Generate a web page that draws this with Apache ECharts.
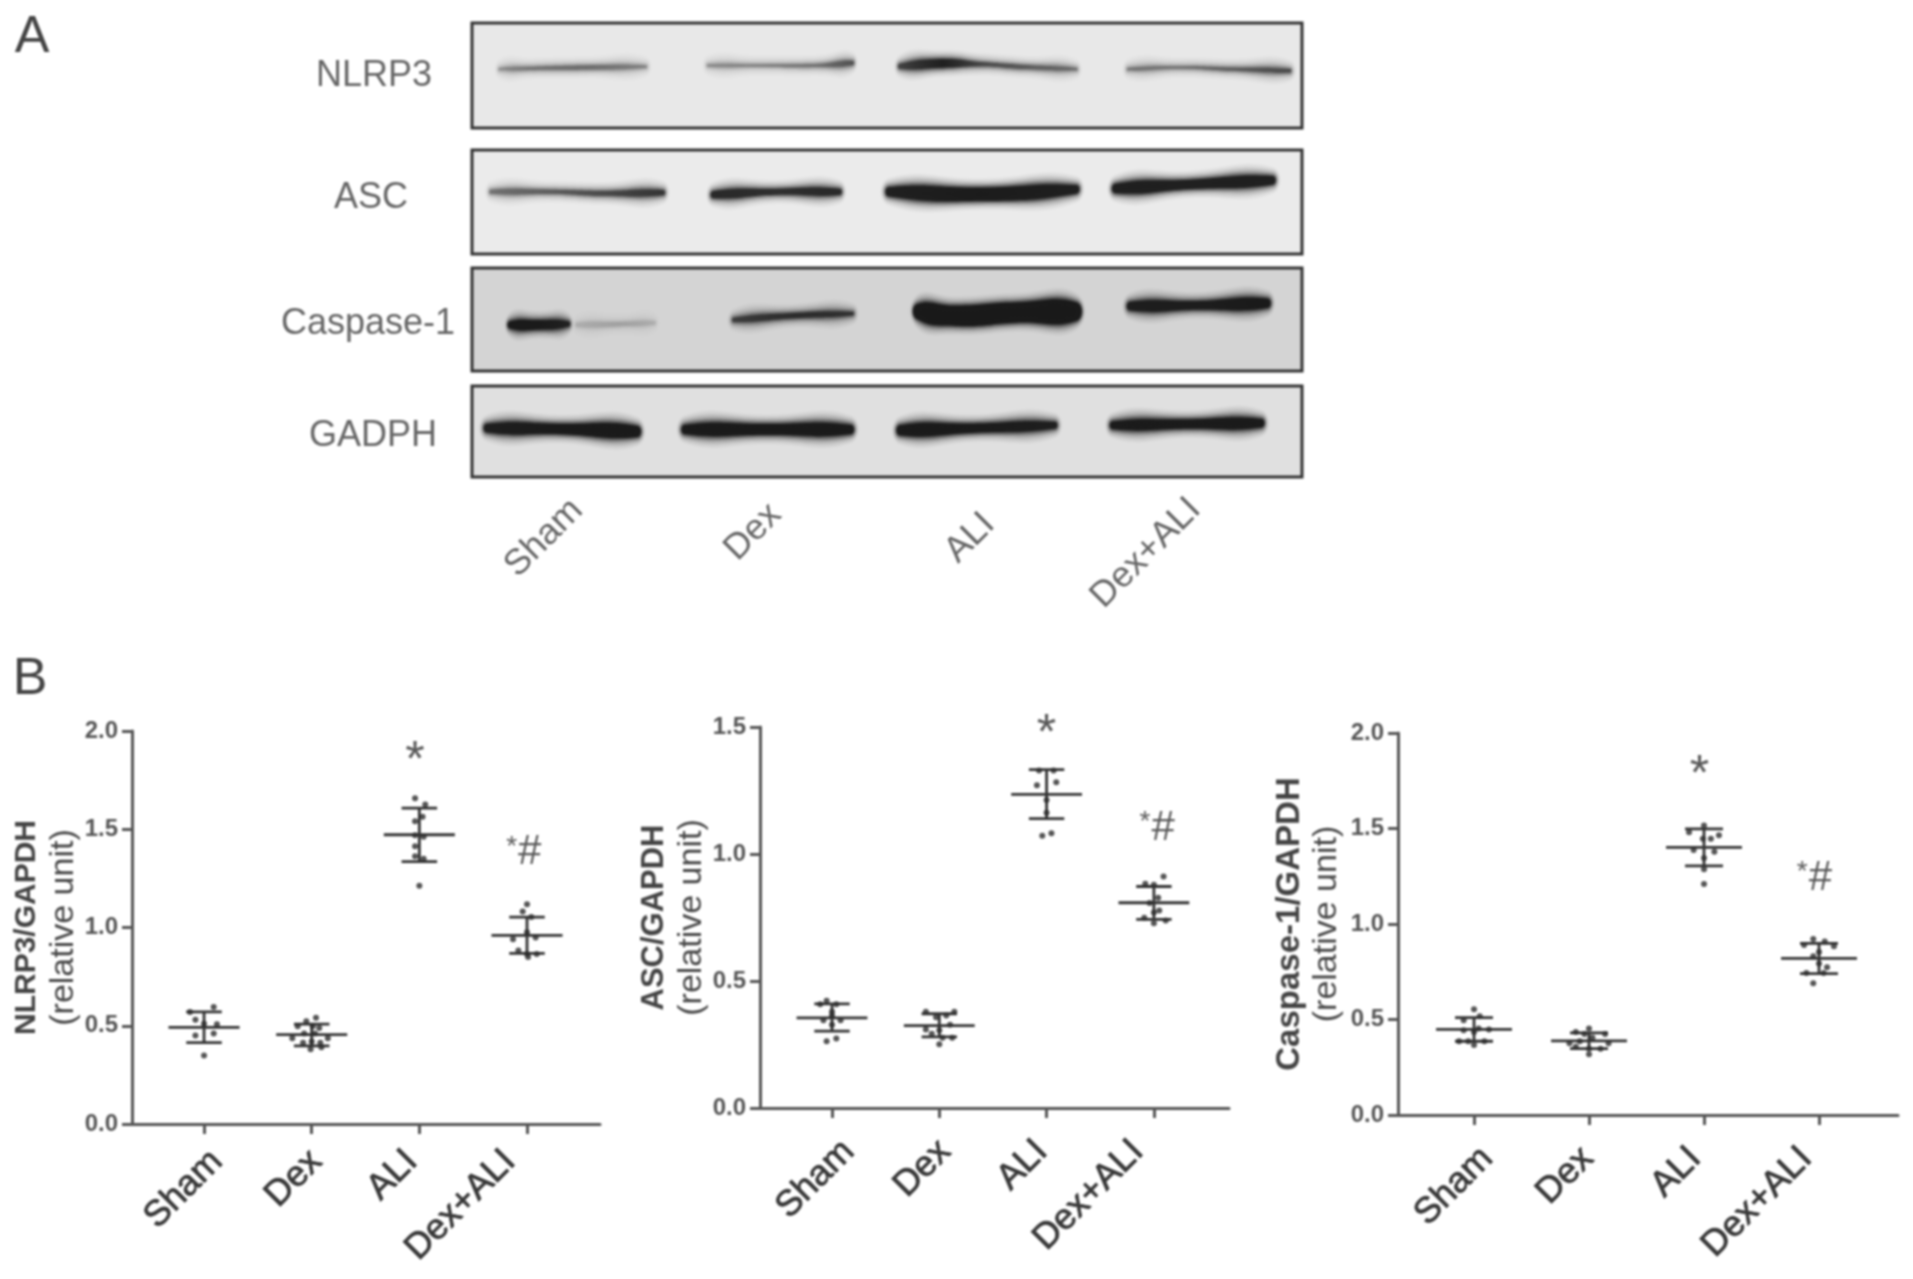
<!DOCTYPE html>
<html><head><meta charset="utf-8">
<style>html,body{margin:0;background:#fff}#c{width:1913px;height:1279px;filter:blur(0.8px)}</style>
<script src="https://cdn.jsdelivr.net/npm/echarts@6/dist/echarts.min.js"></script></head>
<body><div id="c"></div>
<script>
const categories = ['Sham','Dex','ALI','Dex+ALI'];

// Panel B: [jitter, value] per animal
const nlrp3Sham = [[-.13,.57],[.09,.596],[-.08,.53],[.12,.508],[-.08,.451],[.09,.461],[0,.348],[0,.51]];
const nlrp3Dex = [[.04,.541],[-.05,.523],[-.13,.498],[.01,.498],[.07,.489],[-.18,.436],[.15,.436],[-.08,.414],[.08,.414],[-.01,.38],[.09,.39],[-.07,.46],[.03,.46],[0,.42]];
const nlrp3Ali = [[-.04,1.658],[.055,1.626],[.03,1.564],[-.04,1.541],[.04,1.462],[-.04,1.47],[-.04,1.414],[-.04,1.363],[.04,1.35],[0,1.212]];
const nlrp3DexAli = [[0,1.118],[-.04,1.081],[.04,1.053],[0,.976],[-.13,.94],[.08,.949],[-.08,.883],[0,.865],[.09,.865],[.01,.85]];
const nlrp3Summary = [[.492,.414,.571],[.455,.398,.508],[1.472,1.335,1.607],[.96,.868,1.053]];

const ascSham = [[-.05,.422],[.04,.408],[0,.379],[-.08,.345],[.08,.345],[0,.328],[0,.364],[-.05,.263],[.04,.274],[-.11,.408]];
const ascDex = [[-.125,.379],[.14,.379],[-.03,.357],[.065,.364],[.1,.328],[-.125,.309],[-.07,.292],[0,.306],[.03,.277],[.12,.277],[0,.251]];
const ascAli = [[-.07,1.329],[.065,1.329],[-.09,1.271],[.09,1.282],[0,1.213],[0,1.162],[-.04,1.072],[.045,1.082]];
const ascDexAli = [[.09,.911],[-.08,.883],[0,.879],[.04,.828],[-.04,.807],[0,.77],[.05,.778],[-.09,.749],[.11,.738],[0,.727]];
const ascSummary = [[.355,.303,.41],[.324,.28,.371],[1.235,1.139,1.332],[.808,.743,.872]];

const caspSham = [[0,.554],[.05,.517],[-.09,.496],[.04,.453],[-.09,.444],[0,.434],[.13,.448],[-.13,.386],[-.05,.386],[.09,.386],[0,.366]];
const caspDex = [[0,.453],[-.115,.434],[-.04,.424],[.14,.424],[.03,.405],[-.17,.376],[-.08,.386],[.17,.376],[-.115,.357],[0,.347],[.1,.347],[0,.318]];
const caspAli = [[0,1.516],[-.13,1.481],[.13,1.465],[-.01,1.446],[.06,1.446],[-.09,1.388],[.09,1.378],[0,1.345],[0,1.287],[0,1.209]];
const caspDexAli = [[-.05,.922],[.05,.909],[-.13,.89],[.13,.884],[0,.853],[-.05,.831],[0,.793],[.07,.773],[-.11,.744],[.04,.744],[-.05,.69]];
const caspSummary = [[.448,.386,.51],[.388,.347,.43],[1.401,1.304,1.498],[.82,.74,.899]];

// significance marks: [category, jitter, value, text]
const nlrp3Marks = [[3,-.04,1.908,'*'],[4,-.03,1.38,'*#']];
const ascMarks = [[3,0,1.52,'*'],[4,.03,1.10,'*#']];
const caspMarks = [[3,-.04,1.84,'*'],[4,-.04,1.238,'*#']];

// Panel A: band profiles, knots of [scan x, scan y, half thickness, density]
const nlrp3Bands = [
 [[580,172,5,.28],[620,170,6,.38],[680,168,7,.42],[750,166,5,.32]],
 [[822,163,5,.28],[880,163,5,.32],[950,163,6,.38],[990,157,7,.55]],
 [[1045,165,8,.65],[1095,158,12,.95],[1140,160,7,.6],[1190,167,7,.5],[1250,172,5,.42]],
 [[1310,172,5,.38],[1370,168,5,.38],[1430,172,6,.48],[1498,176,6,.6]]];
const ascBands = [
 [[570,470,7,.4],[640,470,7,.5],[700,474,8,.6],[770,472,8,.75]],
 [[828,477,10,.85],[900,470,9,.8],[975,470,9,.85]],
 [[1032,470,13,.95],[1140,476,18,1],[1250,464,12,.95]],
 [[1295,462,13,.95],[1380,452,13,.95],[1478,442,12,.95]]];
const caspaseBands = [
 [[592,797,10,1],[625,797,13,1],[660,795,8,.9]],
 [[670,797,7,.12],[720,795,7,.16],[760,792,6,.12]],
 [[852,785,7,.65],[920,775,8,.8],[990,770,6,.75]],
 [[1065,765,20,1],[1110,775,26,1],[1180,767,26,1],[1250,765,24,1]],
 [[1312,752,12,.95],[1390,750,12,.95],[1472,745,13,1]]];
const gadphBands = [
 [[565,1050,12,.95],[650,1052,14,1],[740,1058,15,1]],
 [[795,1053,13,1],[890,1053,15,1],[988,1053,13,1]],
 [[1045,1055,14,1],[1130,1050,13,1],[1225,1043,10,.95]],
 [[1292,1043,11,1],[1380,1040,13,1],[1465,1038,12,1]]];

const FONT = '"Liberation Sans", Arial, sans-serif';
const INK = '#383838', AXIS = '#555';
const grids=[], xAxes=[], yAxes=[], series=[];
// soft edge of a band: [extra half thickness in scan units, share of density]
const HALO = [[20,.05],[15,.07],[11,.1],[7,.14],[4,.2],[1,.35],[-2,.7]];

function blot(band, rect, scan, bg){
  const i = grids.length;
  grids.push({left:rect[0],top:rect[1],width:rect[2],height:rect[3],show:true,backgroundColor:bg,borderColor:'#333',borderWidth:3,outerBoundsMode:'none'});
  xAxes.push({gridIndex:i,type:'value',min:scan[0],max:scan[1],show:false});
  yAxes.push({gridIndex:i,type:'value',min:scan[2],max:scan[3],inverse:true,show:false});
  series.push({type:'custom',xAxisIndex:i,yAxisIndex:i,coordinateSystem:'cartesian2d',silent:true,clip:true,
    data:band.map(k=>[k[0][0],k[0][1]]),
    renderItem(params,api){
      const k = band[params.dataIndex];
      const x0 = api.coord([k[0][0],scan[2]])[0], x1 = api.coord([k[k.length-1][0],scan[2]])[0];
      const children = HALO.map(([extra,weight])=>{
        const half = p=>Math.max(p[2]+extra,1.5);
        const top = k.map(p=>api.coord([p[0],p[1]-half(p)]));
        const bot = k.map(p=>api.coord([p[0],p[1]+half(p)])).reverse();
        const stops = k.map(p=>({offset:(api.coord([p[0],p[1]])[0]-x0)/(x1-x0),color:`rgba(8,8,8,${p[3]*weight})`}));
        return {type:'polygon',shape:{points:top.concat(bot),smooth:0.5},
          style:{fill:new echarts.graphic.LinearGradient(x0,0,x1,0,stops,true),shadowBlur:5,shadowColor:`rgba(20,20,20,${weight*.35})`}};
      });
      return {type:'group',children};
    }});
}

function dotPlot(rect, xRange, yMax, yStep, title, labelAt, labelMargin, groups, summary, marks){
  const i = grids.length;
  grids.push({left:rect[0],top:rect[1],width:rect[2],height:rect[3],outerBoundsMode:'none'});
  const axisLine = {show:true,lineStyle:{color:AXIS,width:3}};
  const tick = {show:true,length:10,lineStyle:{color:AXIS,width:3}};
  xAxes.push({gridIndex:i,type:'value',min:xRange[0],max:xRange[1],splitLine:{show:false},
    axisLine:{...axisLine,onZero:false},
    axisTick:{...tick,customValues:[1,2,3,4]},
    axisLabel:{customValues:labelAt,rotate:45,margin:labelMargin,color:INK,fontFamily:FONT,fontSize:36,fontWeight:500,hideOverlap:false,
      textBorderColor:INK,textBorderWidth:.8,
      formatter:v=>categories[labelAt.indexOf(v)]}});
  yAxes.push({gridIndex:i,type:'value',min:0,max:yMax,interval:yStep,splitLine:{show:false},
    axisLine,axisTick:tick,
    axisLabel:{color:AXIS,fontFamily:FONT,fontSize:24,fontWeight:'bold',margin:14,formatter:v=>v.toFixed(1)},
    name:`{a|${title.text}}\n{b|(relative unit)}`,nameLocation:'middle',nameGap:title.gap,
    nameTextStyle:{rich:{a:{fontFamily:FONT,fontSize:title.size,fontWeight:'bold',color:'#444',lineHeight:37},
                         b:{fontFamily:FONT,fontSize:34,color:'#484848',lineHeight:37}}}});
  const pts=[];
  groups.forEach((g,c)=>g.forEach(p=>pts.push([c+1+p[0],p[1]])));
  series.push({type:'scatter',xAxisIndex:i,yAxisIndex:i,data:pts,symbol:'circle',symbolSize:6,itemStyle:{color:'#2a2a2a'},silent:true});
  series.push({type:'custom',xAxisIndex:i,yAxisIndex:i,silent:true,
    data:summary.map((s,c)=>[c+1,s[0],s[1],s[2]]),
    encode:{x:0,y:[1,2,3]},
    renderItem(params,api){
      const x=api.value(0), m=api.value(1), lo=api.value(2), hi=api.value(3);
      const seg=(a,b,c,d)=>{const p=api.coord([a,b]),q=api.coord([c,d]);
        return {type:'line',shape:{x1:p[0],y1:p[1],x2:q[0],y2:q[1]},style:{stroke:'#333',lineWidth:2.8}};};
      return {type:'group',children:[seg(x-.33,m,x+.33,m),seg(x-.165,hi,x+.165,hi),seg(x-.165,lo,x+.165,lo),seg(x,lo,x,hi)]};
    }});
  series.push({type:'scatter',xAxisIndex:i,yAxisIndex:i,silent:true,clip:false,symbol:'circle',symbolSize:2,
    itemStyle:{color:'rgba(0,0,0,0)'},
    data:marks.map(m=>({value:[m[0]+m[1],m[2]],txt:m[3]})),
    label:{show:true,position:'inside',
      formatter:p=>p.data.txt==='*'?'{big|*}':'{small|*}{hash|#}',
      rich:{big:{fontFamily:FONT,fontSize:50,color:'#2e2e2e',padding:[26,0,0,0]},
            small:{fontFamily:FONT,fontSize:28,color:'#333',padding:[0,1,12,0]},
            hash:{fontFamily:FONT,fontSize:42,color:'#2e2e2e'}}}});
}

blot(nlrp3Bands,[472,23,830,105],[548,1512,60,315],'#e8e8e8');
blot(ascBands,[472,150,830,104],[548,1512,368,622],'#ebebeb');
blot(caspaseBands,[472,268,830,103],[548,1512,660,908],'#d4d4d4');
blot(gadphBands,[472,386,830,91],[548,1512,948,1168],'#e0e0e0');

dotPlot([132,731,468,393],[.331,4.678],2,.5,{text:'NLRP3/GAPDH',gap:46,size:30},[1.12,2.045,2.93,3.84],32,[nlrp3Sham,nlrp3Dex,nlrp3Ali,nlrp3DexAli],nlrp3Summary,nlrp3Marks);
dotPlot([760,727,469,381],[.329,4.70],1.5,.5,{text:'ASC/GAPDH',gap:46,size:31},[1.155,2.055,2.955,3.85],38,[ascSham,ascDex,ascAli,ascDexAli],ascSummary,ascMarks);
dotPlot([1398,733,500,382],[.339,4.687],2,.5,{text:'Caspase-1/GAPDH',gap:53,size:33},[1.115,1.99,2.925,3.89],38,[caspSham,caspDex,caspAli,caspDexAli],caspSummary,caspMarks);

const sideText=(t,x,y,o={})=>({type:'text',x,y,rotation:o.rot||0,style:{text:t,fontFamily:FONT,fontSize:o.size||36,fill:o.fill||'#666',align:'center',verticalAlign:'middle'}});
const laneRot=Math.PI/4;
const graphic=[
  sideText('A',32,38,{size:52,fill:'#444'}),sideText('B',30,680,{size:52,fill:'#444'}),
  sideText('NLRP3',374,76),sideText('ASC',371,198),sideText('Caspase-1',368,324),sideText('GADPH',373,436),
  sideText(categories[0],544,538,{rot:laneRot,size:36}),sideText(categories[1],753,532,{rot:laneRot,size:36}),
  sideText(categories[2],970,538,{rot:laneRot,size:36}),sideText(categories[3],1146,553,{rot:laneRot,size:36})
];

const chart=echarts.init(document.getElementById('c'),null,{renderer:'canvas'});
chart.setOption({animation:false,backgroundColor:'#fff',tooltip:{show:false},grid:grids,xAxis:xAxes,yAxis:yAxes,series,graphic});
</script></body></html>
